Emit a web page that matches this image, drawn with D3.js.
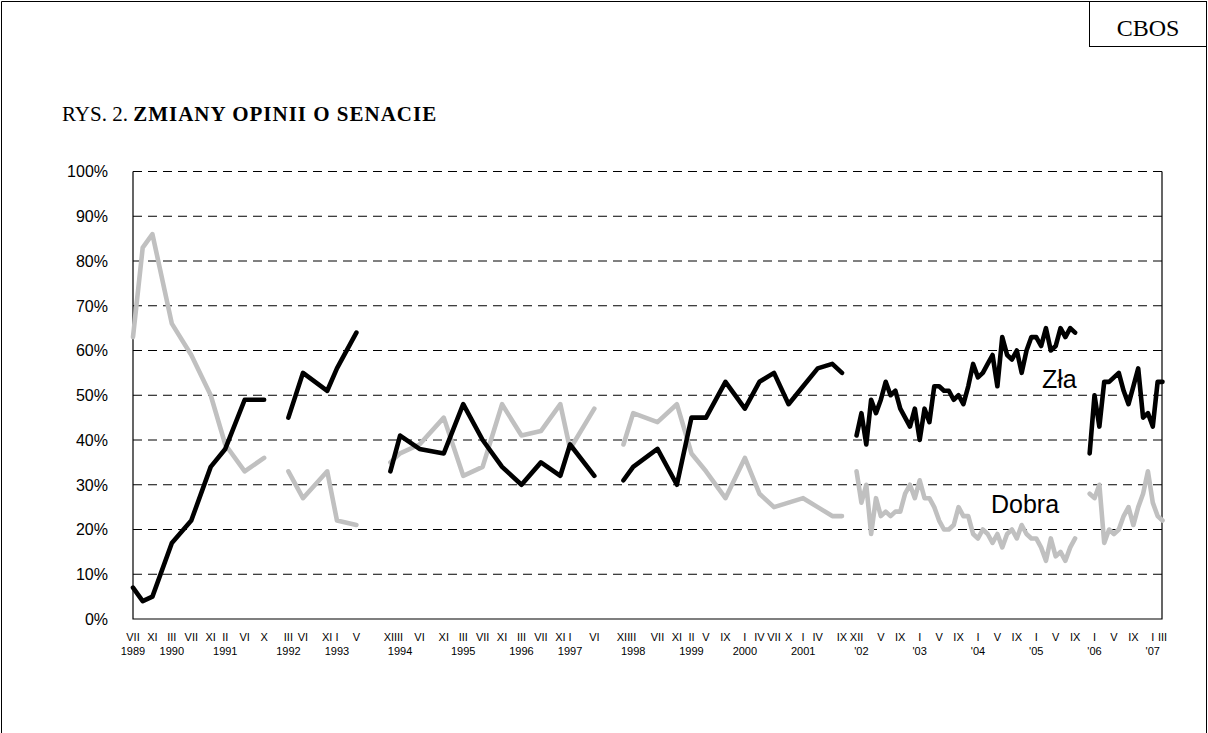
<!DOCTYPE html>
<html>
<head>
<meta charset="utf-8">
<script src="https://cdn.jsdelivr.net/npm/d3@7"></script>
<style>
  html, body { margin: 0; padding: 0; background: #fff; }
  svg { display: block; }
</style>
</head>
<body>
<svg id="chart" width="1208" height="733"></svg>
<script>
// ---------------- DATA ----------------
// survey dates (YYYY-MM); entries with null values mark breaks between survey series
const dates = [
  "1989-07","1989-09","1989-11","1990-03","1990-07","1990-11","1991-02","1991-06","1991-10",
  "1992-01",
  "1992-03","1992-06","1992-11","1993-01","1993-05",
  "1993-08",
  "1993-12","1994-02","1994-06","1994-11","1995-03","1995-07","1995-11","1996-03","1996-07","1996-11","1997-01","1997-06",
  "1997-09",
  "1997-12","1998-02","1998-07","1998-11","1999-02","1999-05","1999-09","2000-01","2000-04","2000-07","2000-10","2001-01","2001-04","2001-07","2001-09",
  "2001-10",
  "2001-12",
  "2002-01","2002-02","2002-03","2002-04","2002-05","2002-06","2002-07","2002-08","2002-09","2002-10","2002-11","2002-12",
  "2003-01","2003-02","2003-03","2003-04","2003-05","2003-06","2003-07","2003-08","2003-09","2003-10","2003-11","2003-12",
  "2004-01","2004-02","2004-03","2004-04","2004-05","2004-06","2004-07","2004-08","2004-09","2004-10","2004-11","2004-12",
  "2005-01","2005-02","2005-03","2005-04","2005-05","2005-06","2005-07","2005-08","2005-09",
  "2005-10",
  "2005-12",
  "2006-01","2006-02","2006-03","2006-04","2006-05","2006-06","2006-07","2006-08","2006-09","2006-10","2006-11","2006-12",
  "2007-01","2007-02","2007-03"
];

// "Zła" (bad opinion), %
const zla = [
  7,4,5,17,22,34,38,49,49,
  null,
  45,55,51,56,64,
  null,
  33,41,38,37,48,40,34,30,35,32,39,32,
  null,
  31,34,38,30,45,45,53,47,53,55,48,52,56,57,55,
  null,
  41,
  46,39,49,46,49,53,50,51,47,45,43,47,
  40,47,44,52,52,51,51,49,50,48,52,57,
  54,55,57,59,52,63,59,58,60,55,60,63,
  63,61,65,60,61,65,63,65,64,
  null,
  37,
  50,43,53,53,54,55,51,48,52,56,45,46,
  43,53,53
];

// "Dobra" (good opinion), %
const dobra = [
  63,83,86,66,59,50,39,33,36,
  null,
  33,27,33,22,21,
  null,
  35,37,39,45,32,34,48,41,42,48,38,47,
  null,
  39,46,44,48,37,33,27,36,28,25,26,27,25,23,23,
  null,
  33,
  26,30,19,27,23,24,23,24,24,28,30,27,
  31,27,27,25,22,20,20,21,25,23,23,19,
  18,20,19,17,19,16,19,20,18,21,19,18,
  18,16,13,18,14,15,13,16,18,
  null,
  28,
  27,30,17,20,19,20,23,25,21,25,28,33,
  26,23,22
];

const yTicks = [0,10,20,30,40,50,60,70,80,90,100];

const monthTicks = [
  "1989-07","1989-11","1990-03","1990-07","1990-11","1991-02","1991-06","1991-10",
  "1992-03","1992-06","1992-11","1993-01","1993-05",
  "1993-12","1994-02","1994-06","1994-11","1995-03","1995-07","1995-11","1996-03","1996-07","1996-11","1997-01","1997-06",
  "1997-12","1998-02","1998-07","1998-11","1999-02","1999-05","1999-09","2000-01","2000-04","2000-07","2000-10","2001-01","2001-04","2001-09",
  "2001-12","2002-05","2002-09","2003-01","2003-05","2003-09","2004-01","2004-05","2004-09","2005-01","2005-05","2005-09",
  "2006-01","2006-05","2006-09","2007-01","2007-03"
];
const monthTickLabels = [
  "VII","XI","III","VII","XI","II","VI","X",
  "III","VI","XI","I","V",
  "XII","II","VI","XI","III","VII","XI","III","VII","XI","I","VI",
  "XII","II","VII","XI","II","V","IX","I","IV","VII","X","I","IV","IX",
  "XII","V","IX","I","V","IX","I","V","IX","I","V","IX",
  "I","V","IX","I","III"
];

const yearTicks = ["1989-07","1990-03","1991-02","1992-03","1993-01","1994-02","1995-03","1996-03","1997-01",
  "1998-02","1999-02","2000-01","2001-01","2002-01","2003-01","2004-01","2005-01","2006-01","2007-01"];
const yearTickLabels = ["1989","1990","1991","1992","1993","1994","1995","1996","1997",
  "1998","1999","2000","2001","'02","'03","'04","'05","'06","'07"];

const seriesNames = ["Zła", "Dobra"];
const seriesColors = ["#000000", "#c0c0c0"];

// ---------------- DRAW ----------------
const svg = d3.select("#chart");
const W = 1208, H = 733;

// month index from "YYYY-MM"
const mIdx = s => { const [y, m] = s.split("-").map(Number); return y * 12 + (m - 1); };

const plot = { left: 133, right: 1162, top: 171.5, bottom: 619 };

const x = d3.scaleLinear()
  .domain([mIdx(dates[0]), mIdx(dates[dates.length - 1])])
  .range([plot.left, plot.right + 0.5]);
const y = d3.scaleLinear().domain([0, 100]).range([plot.bottom, plot.top]);

// page frame
svg.append("rect").attr("x", 0).attr("y", 0).attr("width", W).attr("height", H).attr("fill", "#fff");
svg.append("path")
  .attr("d", `M1.5,${H} V1.5 H${W - 1.5} V${H}`)
  .attr("fill", "none").attr("stroke", "#000").attr("stroke-width", 1);

// CBOS box
svg.append("rect").attr("x", 1089.5).attr("y", 1.5).attr("width", W - 1.5 - 1089.5).attr("height", 45)
  .attr("fill", "#fff").attr("stroke", "#000").attr("stroke-width", 1);
svg.append("text").attr("x", 1148).attr("y", 36).attr("text-anchor", "middle")
  .attr("font-family", "'Liberation Serif', 'Times New Roman', serif").attr("font-size", 24)
  .text("CBOS");

// title
const title = svg.append("text").attr("x", 62).attr("y", 121)
  .attr("font-family", "'Liberation Serif', 'Times New Roman', serif").attr("font-size", 21);
title.append("tspan").text("RYS. 2. ");
title.append("tspan").attr("font-weight", "bold").attr("letter-spacing", 1).text("ZMIANY OPINII O SENACIE");

// gridlines
svg.append("g").selectAll("line").data(yTicks.filter(d => d > 0)).join("line")
  .attr("x1", plot.left).attr("x2", plot.right)
  .attr("y1", d => y(d)).attr("y2", d => y(d))
  .attr("stroke", "#000").attr("stroke-width", 1).attr("stroke-dasharray", "9,6");

// axes lines
svg.append("path")
  .attr("d", `M${plot.left},${y(100)} V${plot.bottom} H${plot.right} V${y(100)}`)
  .attr("fill", "none").attr("stroke", "#000").attr("stroke-width", 1.2);

// y tick labels
svg.append("g").selectAll("text").data(yTicks).join("text")
  .attr("x", 108).attr("y", d => y(d)).attr("dy", "0.36em")
  .attr("text-anchor", "end")
  .attr("font-family", "'Liberation Sans', Arial, sans-serif").attr("font-size", 16)
  .text(d => d + "%");

// x month labels
svg.append("g").selectAll("text").data(monthTicks).join("text")
  .attr("x", d => x(mIdx(d))).attr("y", 641)
  .attr("text-anchor", "middle")
  .attr("font-family", "'Liberation Sans', Arial, sans-serif").attr("font-size", 11)
  .text((d, i) => monthTickLabels[i]);

// x year labels
svg.append("g").selectAll("text").data(yearTicks).join("text")
  .attr("x", d => x(mIdx(d))).attr("y", 655)
  .attr("text-anchor", "middle")
  .attr("font-family", "'Liberation Sans', Arial, sans-serif").attr("font-size", 11)
  .text((d, i) => yearTickLabels[i]);

// lines
const line = d3.line()
  .defined(d => d.v != null)
  .x(d => x(mIdx(d.date)))
  .y(d => y(d.v));

[dobra, zla].forEach((vals, k) => {
  const color = k === 0 ? seriesColors[1] : seriesColors[0];
  svg.append("path")
    .datum(dates.map((dt, i) => ({ date: dt, v: vals[i] })))
    .attr("d", line)
    .attr("fill", "none")
    .attr("stroke", color)
    .attr("stroke-width", 4.6)
    .attr("stroke-linejoin", "round")
    .attr("stroke-linecap", "round");
});

// series labels
svg.append("text").attr("x", 1042).attr("y", 388)
  .attr("font-family", "'Liberation Sans', Arial, sans-serif").attr("font-size", 25)
  .text(seriesNames[0]);
svg.append("text").attr("x", 991).attr("y", 513)
  .attr("font-family", "'Liberation Sans', Arial, sans-serif").attr("font-size", 25)
  .text(seriesNames[1]);
</script>
</body>
</html>
